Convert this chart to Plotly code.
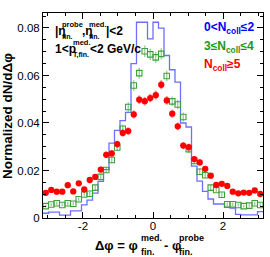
import numpy as np
import plotly.graph_objects as go

# ---------------- data ----------------
n_bins = 40
blue_vals = [0.0020, 0.0025, 0.0025, 0.0012, 0.0012, 0.0030, 0.0030, 0.0055, 0.0075, 0.0105,
             0.0154, 0.0204, 0.0315, 0.0369, 0.0410, 0.0445, 0.0650, 0.0824, 0.0824, 0.0754,
             0.0824, 0.0799, 0.0684, 0.0624, 0.0572, 0.0400, 0.0383, 0.0218, 0.0155, 0.0112,
             0.0080, 0.0059, 0.0059, 0.0045, 0.0042, 0.0015, 0.0013, 0.0013, 0.0013, 0.0027]
green_vals = [0.0050, 0.0057, 0.0062, 0.0055, 0.0062, 0.0060, 0.0079, 0.0099, 0.0102, 0.0128,
              0.0173, 0.0202, 0.0244, 0.0297, 0.0376, 0.0467, 0.0558, 0.0610, 0.0702, 0.0689,
              0.0676, 0.0691, 0.0598, 0.0491, 0.0478, 0.0425, 0.0290, 0.0240, 0.0195, 0.0180,
              0.0128, 0.0118, 0.0098, 0.0058, 0.0058, 0.0055, 0.0050, 0.0052, 0.0062, 0.0055]
green_err = [0.0006, 0.0006, 0.0007, 0.0006, 0.0007, 0.0007, 0.0008, 0.0009, 0.0009, 0.0010,
             0.0012, 0.0013, 0.0014, 0.0016, 0.0018, 0.0020, 0.0022, 0.0023, 0.0024, 0.0024,
             0.0024, 0.0024, 0.0022, 0.0020, 0.0020, 0.0019, 0.0016, 0.0014, 0.0013, 0.0012,
             0.0010, 0.0010, 0.0009, 0.0007, 0.0007, 0.0007, 0.0006, 0.0007, 0.0007, 0.0007]
red_vals = [0.0106, 0.0118, 0.0111, 0.0111, 0.0138, 0.0112, 0.0146, 0.0120, 0.0160, 0.0173,
            0.0204, 0.0266, 0.0272, 0.0311, 0.0358, 0.0366, 0.0436, 0.0498, 0.0492, 0.0505,
            0.0517, 0.0561, 0.0495, 0.0439, 0.0386, 0.0305, 0.0298, 0.0248, 0.0234, 0.0207,
            0.0178, 0.0139, 0.0144, 0.0135, 0.0111, 0.0104, 0.0107, 0.0106, 0.0116, 0.0101]
red_err = [0.0009, 0.0009, 0.0009, 0.0009, 0.0010, 0.0009, 0.0010, 0.0009, 0.0011, 0.0011,
           0.0012, 0.0014, 0.0014, 0.0015, 0.0016, 0.0016, 0.0017, 0.0018, 0.0018, 0.0018,
           0.0019, 0.0019, 0.0018, 0.0017, 0.0016, 0.0015, 0.0015, 0.0013, 0.0013, 0.0012,
           0.0011, 0.0010, 0.0010, 0.0010, 0.0009, 0.0009, 0.0009, 0.0009, 0.0009, 0.0009]

x_tickvals = [-2, 0, 2]
x_ticktext = ["-2", "0", "2"]
y_tickvals = [0, 0.02, 0.04, 0.06, 0.08]
y_ticktext = ["0", "0.02", "0.04", "0.06", "0.08"]

# ---------------- geometry ----------------
W, H = 270, 257
ML, MR, MT, MB = 43, 7, 13, 39
PW, PH = W - ML - MR, H - MT - MB

edges = np.linspace(-np.pi, np.pi, n_bins + 1)
centers = 0.5 * (edges[:-1] + edges[1:])

FONT = "Liberation Sans, Arial, Helvetica, sans-serif"

fig = go.Figure()

# blue step histogram
fig.add_trace(go.Scatter(
    x=edges, y=blue_vals + [blue_vals[-1]], mode="lines", line_shape="hv",
    line=dict(color="rgb(110,110,255)", width=1.3), showlegend=False, hoverinfo="skip"))

# green open squares
fig.add_trace(go.Scatter(
    x=centers, y=green_vals, mode="markers",
    marker=dict(symbol="square-open", size=5.5, color="rgb(60,160,60)", line=dict(width=1.1)),
    error_y=dict(type="data", array=green_err, color="rgba(60,160,60,0.55)", thickness=1.3, width=0),
    showlegend=False))

# red filled circles
fig.add_trace(go.Scatter(
    x=centers, y=red_vals, mode="markers",
    marker=dict(symbol="circle", size=6.3, color="rgb(255,0,0)"),
    error_y=dict(type="data", array=red_err, color="rgba(255,0,0,0.45)", thickness=2, width=0),
    showlegend=False))


def px2paper(px, py):
    return (px - ML) / PW, (MT + PH - py) / PH


annotations = []


def ann(text, px, py, size, color="black", xanchor="left", bold=True, angle=0):
    x, y = px2paper(px, py)
    t = "<b>%s</b>" % text if bold else text
    annotations.append(dict(
        text=t, x=x, y=y, xref="paper", yref="paper", xanchor=xanchor, yanchor="middle",
        showarrow=False, textangle=angle, borderpad=0,
        font=dict(family=FONT, size=size, color=color)))


# top-left selection text
ann("|η", 53.5, 31, 12)
ann("probe", 60.5, 24, 7.5)
ann("fin.", 60.5, 36.5, 7)
ann(",η", 81, 31, 12)
ann("med.", 87.5, 24, 7.5)
ann("fin.", 87.5, 36.5, 7)
ann("|<2", 104.5, 31, 12)

ann("1<p", 53.5, 48.5, 12)
ann("med.", 72, 42.5, 7.5)
ann("T,fin.", 72, 55, 7)
ann("<2 GeV/c", 89, 48.5, 12)

# legend-like labels
ann("0<N<sub>coll</sub>≤2", 202.5, 28.5, 12, color="rgb(0,0,255)")
ann("3≤N<sub>coll</sub>≤4", 202.5, 46.5, 12, color="rgb(30,150,30)")
ann("N<sub>coll</sub>≥5", 202.5, 64.5, 12, color="rgb(255,0,0)")

# axis titles
ann("Normalized dN/dΔφ", 7, 116, 13.5, xanchor="center", angle=-90)
ann("Δφ = φ", 139, 245, 13, xanchor="right")
ann("med.", 140, 238, 9)
ann("fin.", 140, 252.5, 9)
ann("- φ", 163, 245, 13)
ann("probe", 178, 238, 9)
ann("fin.", 178, 252.5, 9)

axis_common = dict(
    showgrid=False, zeroline=False, showline=True, linecolor="black", linewidth=1,
    mirror="allticks", ticks="inside", ticklen=6, tickwidth=1, tickcolor="black",
    tickfont=dict(family=FONT, size=11.5, color="black"))

fig.update_layout(
    width=W, height=H, autosize=False,
    margin=dict(l=ML, r=MR, t=MT, b=MB, pad=0),
    paper_bgcolor="white", plot_bgcolor="white",
    showlegend=False,
    xaxis=dict(range=[-np.pi, np.pi], tickmode="array", tickvals=x_tickvals, ticktext=x_ticktext,
               ticklabelstandoff=-3,
               minor=dict(ticks="inside", ticklen=3, tick0=0, dtick=0.5, tickcolor="black"),
               **axis_common),
    yaxis=dict(range=[0, 0.0863], tickmode="array", tickvals=y_tickvals, ticktext=y_ticktext,
               minor=dict(ticks="inside", ticklen=3, tick0=0, dtick=0.005, tickcolor="black"),
               **axis_common),
    annotations=annotations,
)

fig.write_html(
    "out.html",
    config={"displayModeBar": False, "responsive": False},
    post_script="document.body.style.margin='0';document.body.style.padding='0';"
                "document.body.style.overflow='hidden';")
